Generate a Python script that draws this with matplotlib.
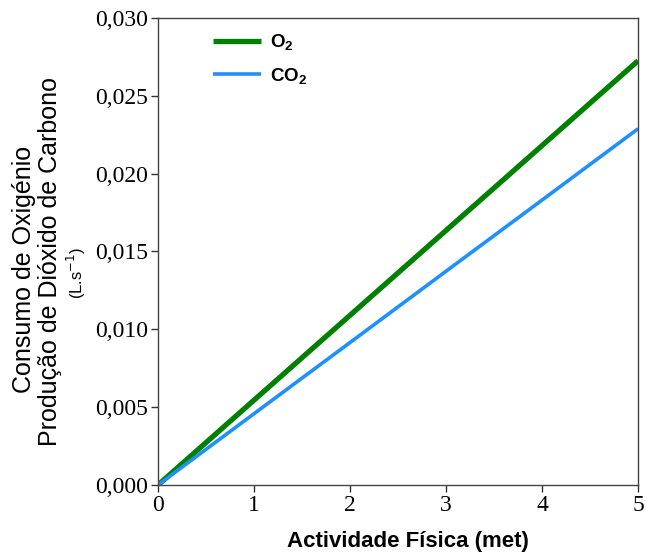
import matplotlib
matplotlib.use("Agg")
import matplotlib.pyplot as plt
from matplotlib.ticker import FuncFormatter, MultipleLocator

# data
met = [0, 1, 2, 3, 4, 5]
o2 = [0.0, 0.00545, 0.0109, 0.01635, 0.0218, 0.02725]
co2 = [0.0, 0.00458, 0.00915, 0.01373, 0.0183, 0.02288]

plt.rcParams['mathtext.fontset'] = 'custom'
plt.rcParams['mathtext.rm'] = 'Liberation Sans:bold'
plt.rcParams['mathtext.it'] = 'Liberation Sans:bold'

fig = plt.figure(figsize=(6.46, 5.53), dpi=100)
ax = fig.add_axes([0.2446, 0.123, 0.743, 0.8445])

ax.plot(met, o2, color='#008000', lw=3.8, label=r'O$_{2}$', solid_capstyle='butt')
ax.plot(met, co2, color='#1E90FF', lw=2.6, label=r'CO$_{2}$', solid_capstyle='butt')

ax.set_xlim(0, 5)
ax.set_ylim(0, 0.030)
ax.xaxis.set_major_locator(MultipleLocator(1))
ax.yaxis.set_major_locator(MultipleLocator(0.005))
ax.yaxis.set_major_formatter(FuncFormatter(lambda v, p: f"{v:.3f}".replace('.', ',')))
ax.tick_params(direction='out', length=5, width=1, color='#333333', pad=2)
for lab in ax.get_xticklabels() + ax.get_yticklabels():
    lab.set_fontfamily('Liberation Serif')
    lab.set_fontsize(17)
for s in ax.spines.values():
    s.set_color('#444444')
    s.set_linewidth(1)

fig.text(408 / 646, 1 - 542 / 553, 'Actividade Física (met)', ha='center', va='center',
         fontfamily='Liberation Sans', fontsize=16, fontweight='bold')

# y label: three lines, placed one by one
fig.text(0.037, 0.512, 'Consumo de Oxigénio', rotation=90, ha='center', va='center',
         fontfamily='Liberation Sans', fontsize=18)
fig.text(0.0774, 0.528, 'Produção de Dióxido de Carbono', rotation=90, ha='center',
         va='center', fontfamily='Liberation Sans', fontsize=18)
fig.text(0.1176, 0.506, r'(L.s$^{-1}$)', rotation=90, ha='center', va='center',
         fontfamily='Liberation Sans', fontsize=12, math_fontfamily='dejavusans')

ax.legend(loc='upper left', bbox_to_anchor=(0.1146, 0.969), frameon=False,
          prop={'family': 'Liberation Sans', 'size': 13.5, 'weight': 'bold'},
          handlelength=2.55, labelspacing=0.72, handletextpad=0.5,
          borderpad=0, borderaxespad=0)

fig.savefig('out.png', dpi=100)
